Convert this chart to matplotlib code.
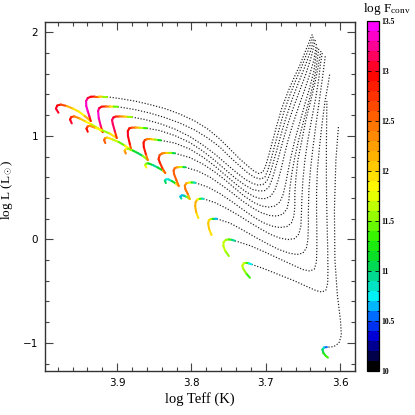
import numpy as np
import matplotlib
matplotlib.use("Agg")
import matplotlib.pyplot as plt
from matplotlib.collections import LineCollection
from matplotlib.colors import LinearSegmentedColormap, Normalize
import matplotlib.cm as cm
from matplotlib.ticker import MultipleLocator, FormatStrFormatter

plt.rcParams['mathtext.fontset'] = 'custom'
plt.rcParams['mathtext.rm'] = 'Liberation Serif'
plt.rcParams['mathtext.it'] = 'Liberation Serif:italic'

# ---------------- data: coloured (log F_conv) parts of the tracks ----------------
COL_TEFF = [
    [3.9789, 3.9823, 3.9805, 3.9758, 3.9677, 3.9596, 3.9516, 3.9435, 3.9354, 3.9374, 3.9395, 3.9415, 3.9417, 3.9395, 3.9354, 3.9300, 3.9247, 3.9193, 3.9139],
    [3.9610, 3.9633, 3.9617, 3.9576, 3.9502, 3.9422, 3.9341, 3.9260, 3.9193, 3.9220, 3.9247, 3.9256, 3.9240, 3.9206, 3.9152, 3.9099, 3.9045, 3.8991],
    [3.9395, 3.9412, 3.9395, 3.9368, 3.9287, 3.9193, 3.9099, 3.9004, 3.9031, 3.9058, 3.9068, 3.9051, 3.9018, 3.8964, 3.8910, 3.8856, 3.8802],
    [3.9159, 3.9175, 3.9159, 3.9132, 3.9058, 3.8977, 3.8897, 3.8809, 3.8829, 3.8854, 3.8856, 3.8836, 3.8802, 3.8749, 3.8695, 3.8641, 3.8601],
    [3.8883, 3.8899, 3.8883, 3.8856, 3.8789, 3.8722, 3.8654, 3.8587, 3.8614, 3.8641, 3.8644, 3.8627, 3.8594, 3.8547, 3.8493, 3.8446, 3.8412],
    [3.8607, 3.8623, 3.8607, 3.8580, 3.8520, 3.8452, 3.8385, 3.8352, 3.8392, 3.8426, 3.8442, 3.8428, 3.8392, 3.8345, 3.8298, 3.8251, 3.8224],
    [3.8345, 3.8358, 3.8338, 3.8311, 3.8264, 3.8210, 3.8170, 3.8203, 3.8234, 3.8240, 3.8224, 3.8190, 3.8150, 3.8109, 3.8082],
    [3.8136, 3.8150, 3.8130, 3.8103, 3.8062, 3.8022, 3.8049, 3.8082, 3.8089, 3.8069, 3.8035, 3.8002, 3.7968, 3.7948],
    [3.7907, 3.7937, 3.7950, 3.7944, 3.7921, 3.7890, 3.7860, 3.7840],
    [3.7730, 3.7762, 3.7775, 3.7766, 3.7739, 3.7708, 3.7679, 3.7658],
    [3.7497, 3.7544, 3.7571, 3.7567, 3.7537, 3.7497, 3.7456, 3.7416],
    [3.7214, 3.7268, 3.7308, 3.7315, 3.7295, 3.7261, 3.7228, 3.7191],
    [3.6178, 3.6218, 3.6238, 3.6225, 3.6191, 3.6164],
]
COL_LOGL = [
    [1.2232, 1.2638, 1.2928, 1.3024, 1.2879, 1.2638, 1.2348, 1.1913, 1.1430, 1.1913, 1.2396, 1.2879, 1.3363, 1.3652, 1.3778, 1.3797, 1.3797, 1.3778, 1.3778],
    [1.1208, 1.1575, 1.1817, 1.1884, 1.1672, 1.1382, 1.1092, 1.0754, 1.0367, 1.0947, 1.1720, 1.2396, 1.2686, 1.2821, 1.2841, 1.2831, 1.2821, 1.2812],
    [1.0396, 1.0706, 1.0918, 1.0966, 1.0754, 1.0512, 1.0222, 0.9788, 1.0464, 1.1140, 1.1527, 1.1768, 1.1865, 1.1875, 1.1865, 1.1836, 1.1817],
    [0.9305, 0.9595, 0.9788, 0.9836, 0.9643, 0.9401, 0.9063, 0.8628, 0.9209, 0.9981, 1.0464, 1.0725, 1.0792, 1.0802, 1.0783, 1.0754, 1.0735],
    [0.8290, 0.8551, 0.8725, 0.8754, 0.8580, 0.8338, 0.8049, 0.7662, 0.8242, 0.8918, 0.9353, 0.9595, 0.9672, 0.9672, 0.9643, 0.9595, 0.9565],
    [0.6937, 0.7179, 0.7324, 0.7343, 0.7179, 0.6937, 0.6648, 0.6406, 0.6889, 0.7421, 0.7759, 0.8145, 0.8309, 0.8358, 0.8358, 0.8339, 0.8319],
    [0.5440, 0.5681, 0.5807, 0.5797, 0.5633, 0.5392, 0.5150, 0.5730, 0.6309, 0.6648, 0.6889, 0.6966, 0.6986, 0.6986, 0.6966],
    [0.3942, 0.4135, 0.4251, 0.4232, 0.4087, 0.3894, 0.4377, 0.4860, 0.5198, 0.5411, 0.5478, 0.5498, 0.5488, 0.5469],
    [0.2058, 0.2638, 0.3218, 0.3604, 0.3846, 0.3913, 0.3933, 0.3923],
    [0.0416, 0.0995, 0.1527, 0.1846, 0.1962, 0.2000, 0.2000, 0.1981],
    [-0.1613, -0.1130, -0.0647, -0.0261, -0.0048, -0.0009, -0.0048, -0.0135],
    [-0.3710, -0.3256, -0.2772, -0.2531, -0.2309, -0.2270, -0.2319, -0.2415],
    [-1.0406, -1.0454, -1.0648, -1.0985, -1.1276, -1.1421],
]
COL_LOGF = [
    [13.0, 13.0, 13.0, 12.8, 12.4, 12.0, 11.8, 11.9, 12.4, 13.2, 13.3, 13.3, 13.3, 13.2, 13.0, 12.8, 12.3, 11.8, 11.2],
    [13.0, 13.0, 12.9, 12.6, 12.2, 11.9, 11.7, 11.6, 12.3, 13.2, 13.3, 13.3, 13.2, 13.0, 12.7, 12.2, 11.7, 11.2],
    [12.9, 12.9, 12.7, 12.5, 12.0, 11.7, 11.5, 12.4, 13.1, 13.2, 13.2, 13.1, 12.9, 12.6, 12.2, 11.8, 11.3],
    [12.6, 12.6, 12.4, 12.1, 11.8, 11.5, 11.3, 12.3, 12.9, 13.0, 13.0, 12.9, 12.7, 12.3, 11.9, 11.5, 11.2],
    [12.3, 12.3, 12.0, 11.7, 11.3, 11.0, 11.0, 12.0, 12.8, 12.9, 12.9, 12.8, 12.6, 12.2, 11.8, 11.3, 11.0],
    [11.8, 11.8, 11.6, 11.3, 11.0, 10.8, 11.5, 12.3, 12.7, 12.8, 12.8, 12.7, 12.5, 12.2, 11.8, 11.2, 10.9],
    [11.2, 11.0, 10.8, 10.7, 10.9, 11.5, 12.3, 12.6, 12.6, 12.6, 12.5, 12.3, 11.9, 11.3, 10.8],
    [11.0, 10.8, 10.6, 10.7, 11.2, 12.0, 12.4, 12.4, 12.4, 12.3, 12.0, 11.5, 11.0, 10.6],
    [11.8, 12.1, 12.2, 12.2, 12.1, 11.6, 11.0, 10.6],
    [11.8, 12.0, 12.0, 12.0, 11.8, 11.3, 10.8, 10.6],
    [11.4, 11.6, 11.7, 11.7, 11.6, 11.5, 11.2, 10.7],
    [11.2, 11.5, 11.7, 11.7, 11.7, 11.6, 11.0, 10.5],
    [10.5, 10.7, 11.0, 11.2, 11.3, 11.3],
]

# ---------------- data: dotted (no F_conv) parts of the tracks ----------------
DOT_TEFF = [
    [3.9139, 3.8964, 3.8762, 3.8560, 3.8358, 3.8156, 3.7955, 3.7780, 3.7618, 3.7483, 3.7349, 3.7241, 3.7160, 3.7093, 3.7039, 3.6999, 3.6959, 3.6905, 3.6851, 3.6784, 3.6703, 3.6622, 3.6541, 3.6461, 3.6373],
    [3.8991, 3.8762, 3.8560, 3.8358, 3.8156, 3.7955, 3.7780, 3.7618, 3.7483, 3.7349, 3.7241, 3.7147, 3.7066, 3.7012, 3.6972, 3.6932, 3.6878, 3.6824, 3.6757, 3.6676, 3.6595, 3.6514, 3.6434, 3.6360],
    [3.8802, 3.8627, 3.8426, 3.8224, 3.8022, 3.7847, 3.7685, 3.7537, 3.7403, 3.7282, 3.7187, 3.7107, 3.7039, 3.6985, 3.6945, 3.6905, 3.6851, 3.6797, 3.6730, 3.6649, 3.6568, 3.6487, 3.6407, 3.6346],
    [3.8601, 3.8426, 3.8224, 3.8022, 3.7847, 3.7685, 3.7537, 3.7403, 3.7282, 3.7174, 3.7080, 3.7012, 3.6959, 3.6918, 3.6878, 3.6824, 3.6770, 3.6703, 3.6622, 3.6541, 3.6461, 3.6393, 3.6333],
    [3.8412, 3.8224, 3.8022, 3.7847, 3.7685, 3.7537, 3.7403, 3.7282, 3.7174, 3.7080, 3.6999, 3.6932, 3.6878, 3.6837, 3.6797, 3.6757, 3.6703, 3.6636, 3.6555, 3.6474, 3.6407, 3.6353, 3.6319],
    [3.8224, 3.8022, 3.7847, 3.7685, 3.7537, 3.7403, 3.7282, 3.7160, 3.7053, 3.6959, 3.6878, 3.6811, 3.6770, 3.6736, 3.6703, 3.6662, 3.6609, 3.6541, 3.6474, 3.6407, 3.6353, 3.6306],
    [3.8082, 3.7914, 3.7753, 3.7605, 3.7457, 3.7322, 3.7187, 3.7066, 3.6945, 3.6851, 3.6770, 3.6716, 3.6689, 3.6676, 3.6649, 3.6609, 3.6555, 3.6488, 3.6420, 3.6366, 3.6326, 3.6286],
    [3.7948, 3.7780, 3.7618, 3.7457, 3.7308, 3.7174, 3.7039, 3.6918, 3.6811, 3.6716, 3.6656, 3.6622, 3.6609, 3.6609, 3.6595, 3.6568, 3.6514, 3.6461, 3.6393, 3.6339, 3.6299, 3.6259],
    [3.7840, 3.7685, 3.7524, 3.7362, 3.7214, 3.7066, 3.6932, 3.6811, 3.6703, 3.6609, 3.6555, 3.6528, 3.6521, 3.6514, 3.6501, 3.6474, 3.6434, 3.6380, 3.6326, 3.6286, 3.6265, 3.6238],
    [3.7658, 3.7483, 3.7308, 3.7133, 3.6972, 3.6824, 3.6689, 3.6582, 3.6501, 3.6454, 3.6434, 3.6427, 3.6427, 3.6420, 3.6400, 3.6366, 3.6326, 3.6279, 3.6238, 3.6198],
    [3.7416, 3.7214, 3.7012, 3.6811, 3.6636, 3.6501, 3.6407, 3.6346, 3.6319, 3.6313, 3.6313, 3.6317, 3.6317, 3.6306, 3.6279, 3.6245, 3.6205, 3.6164, 3.6138],
    [3.7191, 3.7012, 3.6811, 3.6609, 3.6447, 3.6326, 3.6245, 3.6191, 3.6167, 3.6164, 3.6167, 3.6175, 3.6182, 3.6185, 3.6185, 3.6182, 3.6178],
    [3.6023, 3.6057, 3.6077, 3.6070, 3.6037, 3.5996, 3.5983, 3.6016, 3.6084, 3.6137, 3.6178],
]
DOT_LOGL = [
    [1.3778, 1.3604, 1.3363, 1.3024, 1.2638, 1.2107, 1.1430, 1.0657, 0.9691, 0.8725, 0.7759, 0.7082, 0.6599, 0.6358, 0.6503, 0.7179, 0.8145, 0.9595, 1.1044, 1.2686, 1.4232, 1.5585, 1.6841, 1.8290, 1.9836],
    [1.2812, 1.2541, 1.2203, 1.1768, 1.1237, 1.0561, 0.9788, 0.8918, 0.7952, 0.7082, 0.6406, 0.5971, 0.5826, 0.6019, 0.6696, 0.7662, 0.9112, 1.0561, 1.2300, 1.3942, 1.5392, 1.6744, 1.8193, 1.9643],
    [1.1817, 1.1575, 1.1189, 1.0657, 0.9933, 0.9111, 0.8242, 0.7324, 0.6503, 0.5826, 0.5440, 0.5247, 0.5295, 0.5633, 0.6309, 0.7276, 0.8628, 1.0078, 1.1720, 1.3459, 1.5005, 1.6454, 1.8000, 1.9450],
    [1.0735, 1.0512, 1.0029, 0.9353, 0.8532, 0.7614, 0.6696, 0.5875, 0.5247, 0.4812, 0.4667, 0.4715, 0.5053, 0.5730, 0.6696, 0.8049, 0.9498, 1.1140, 1.2879, 1.4425, 1.5971, 1.7517, 1.9256],
    [0.9565, 0.9305, 0.8725, 0.7952, 0.7082, 0.6164, 0.5343, 0.4667, 0.4184, 0.3942, 0.3942, 0.4184, 0.4763, 0.5633, 0.6696, 0.7952, 0.9498, 1.1140, 1.2879, 1.4522, 1.5971, 1.7324, 1.8870],
    [0.8319, 0.7904, 0.7276, 0.6503, 0.5681, 0.4860, 0.4135, 0.3556, 0.3218, 0.3121, 0.3218, 0.3604, 0.4281, 0.5247, 0.6503, 0.7952, 0.9595, 1.1334, 1.3073, 1.4715, 1.6261, 1.8677],
    [0.6966, 0.6599, 0.6020, 0.5295, 0.4522, 0.3749, 0.3073, 0.2590, 0.2300, 0.2251, 0.2445, 0.2928, 0.3797, 0.4957, 0.6406, 0.7952, 0.9691, 1.1527, 1.3363, 1.4908, 1.6358, 1.8483],
    [0.5469, 0.5053, 0.4425, 0.3652, 0.2879, 0.2203, 0.1623, 0.1285, 0.1140, 0.1237, 0.1575, 0.2251, 0.3218, 0.4474, 0.5923, 0.7662, 0.9595, 1.1527, 1.3459, 1.5102, 1.6551, 1.8193],
    [0.3923, 0.3556, 0.2976, 0.2300, 0.1623, 0.0995, 0.0464, 0.0126, -0.0019, 0.0078, 0.0512, 0.1285, 0.2445, 0.3991, 0.5730, 0.7662, 0.9595, 1.1720, 1.3749, 1.5585, 1.6937, 1.8097],
    [0.1981, 0.1575, 0.0899, 0.0174, -0.0454, -0.0985, -0.1323, -0.1468, -0.1323, -0.0840, -0.0066, 0.1285, 0.2831, 0.4763, 0.6696, 0.8822, 1.1044, 1.3459, 1.5585, 1.7807],
    [-0.0135, -0.0599, -0.1227, -0.1903, -0.2483, -0.2918, -0.3062, -0.2869, -0.2193, -0.1034, 0.0706, 0.2638, 0.4474, 0.6696, 0.8822, 1.1044, 1.3266, 1.4908, 1.6068],
    [-0.2415, -0.2869, -0.3449, -0.4029, -0.4560, -0.4947, -0.5092, -0.4899, -0.4222, -0.2966, -0.1034, 0.1382, 0.3797, 0.6213, 0.8628, 1.1044, 1.3363],
    [1.0850, 0.7662, 0.2831, -0.2000, -0.5381, -0.7797, -0.9246, -1.0019, -1.0357, -1.0406, -1.0406],
]

X_MAJOR = [3.9, 3.8, 3.7, 3.6]
Y_MAJOR = [-1, 0, 1, 2]
CB_TICKS = [10, 10.5, 11, 11.5, 12, 12.5, 13, 13.5]
F_MIN, F_MAX = 10.0, 13.5

# ---------------- colour map ----------------
cmap = LinearSegmentedColormap.from_list('fconv', [
    (0.00, (0.00, 0.00, 0.00)),
    (0.03, (0.00, 0.00, 0.30)),
    (0.09, (0.00, 0.00, 0.85)),
    (0.14, (0.00, 0.35, 1.00)),
    (0.20, (0.00, 0.95, 1.00)),
    (0.26, (0.00, 0.85, 0.60)),
    (0.31, (0.00, 0.85, 0.20)),
    (0.37, (0.15, 0.95, 0.00)),
    (0.46, (0.70, 1.00, 0.00)),
    (0.52, (1.00, 1.00, 0.00)),
    (0.60, (1.00, 0.75, 0.00)),
    (0.71, (1.00, 0.45, 0.00)),
    (0.86, (1.00, 0.00, 0.00)),
    (0.93, (1.00, 0.00, 0.50)),
    (1.00, (1.00, 0.00, 1.00)),
], N=35)
norm = Normalize(F_MIN, F_MAX)

W = 415.0
fig = plt.figure(figsize=(4.15, 4.15), dpi=100)
ax = fig.add_axes([45 / W, 1 - 371 / W, 310 / W, 349 / W])
cax = fig.add_axes([367 / W, 1 - 371 / W, 12 / W, 350.5 / W])

for tx, ty in zip(DOT_TEFF, DOT_LOGL):
    ax.plot(tx, ty, color='#1a1a1a', lw=0.85, ls=(0, (1, 1.5)))

for tx, ty, tf in zip(COL_TEFF, COL_LOGL, COL_LOGF):
    pts = np.column_stack([tx, ty])
    segs = np.stack([pts[:-1], pts[1:]], axis=1)
    fv = 0.5 * (np.asarray(tf[:-1]) + np.asarray(tf[1:]))
    lc = LineCollection(segs, cmap=cmap, norm=norm, linewidths=1.5,
                        capstyle='round', joinstyle='round')
    lc.set_array(fv)
    ax.add_collection(lc)

ax.set_xlim(3.997, 3.580)
ax.set_ylim(-1.272, 2.10)
ax.set_xticks(X_MAJOR)
ax.set_yticks(Y_MAJOR)
ax.xaxis.set_minor_locator(MultipleLocator(0.02))
ax.yaxis.set_minor_locator(MultipleLocator(0.2))
ax.xaxis.set_major_formatter(FormatStrFormatter('%.1f'))
ax.set_yticklabels(['\u22121', '0', '1', '2'])
ax.tick_params(which='both', direction='in', top=True, right=True,
               color='#444444', labelsize=7.5, width=0.8)
ax.tick_params(which='major', length=6, pad=5)
ax.tick_params(which='minor', length=3)
for s in ax.spines.values():
    s.set_color('#333333')
    s.set_linewidth(1.0)

ax.set_xlabel('log Teff (K)', family='Liberation Serif', fontsize=10.5, labelpad=3)
ax.set_ylabel(r'log L (L$_\odot$)', family='Liberation Serif', fontsize=9.5)
ax.yaxis.set_label_coords((15 - 45) / 310, (371 - 190) / 349)

sm = cm.ScalarMappable(norm=norm, cmap=cmap)
cb = fig.colorbar(sm, cax=cax)
cb.set_ticks(CB_TICKS)
cb.set_ticklabels(['%g' % t for t in CB_TICKS])
cax.yaxis.set_minor_locator(MultipleLocator(0.1))
cax.tick_params(which='both', direction='in', left=True, right=True,
                labelleft=False, labelright=True, color='black', width=0.6)
cax.tick_params(which='major', length=3, pad=2)
cax.tick_params(which='minor', length=1.5)
for lab in cax.get_yticklabels():
    lab.set_fontfamily('Liberation Serif')
    lab.set_fontweight('bold')
    lab.set_fontsize(5.5)
cb.outline.set_linewidth(0.9)

fig.text(387 / W, 1 - 9 / W, r'log F$_{\rm conv}$', ha='center', va='center',
         family='Liberation Serif', fontsize=9.5)

fig.savefig('out.png', dpi=100)
